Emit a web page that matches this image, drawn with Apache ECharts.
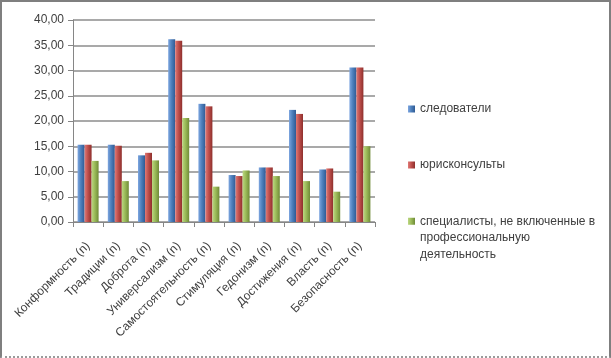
<!DOCTYPE html>
<html><head><meta charset="utf-8">
<script src="https://cdn.jsdelivr.net/npm/echarts@6/dist/echarts.min.js"></script>
<style>html,body{margin:0;padding:0;background:#fff}
#frame{position:absolute;left:0;top:0;width:607px;height:354px;border:2px solid #7f7f7f;border-bottom:2px dotted #9a9a9a;}
#c{position:absolute;left:0;top:0;width:611px;height:358px}</style>
</head><body><div id="frame"></div><div id="c"></div>
<script>
const categories = ['Конформность (n)','Традиции (n)','Доброта (n)','Универсализм (n)','Самостоятельность (n)','Стимуляция (n)','Гедонизм (n)','Достижения (n)','Власть (n)','Безопасность (n)'];
const seriesNames = ['следователи','юрисконсульты','специалисты, не включенные в профессиональную деятельность'];
const investigators = [15.3, 15.3, 13.2, 36.2, 23.4, 9.3, 10.8, 22.2, 10.4, 30.6];
const lawyers       = [15.3, 15.1, 13.7, 35.9, 22.9, 9.1, 10.8, 21.4, 10.6, 30.6];
const others        = [12.1, 8.1, 12.2, 20.6, 7.0, 10.2, 9.1, 8.1, 6.0, 15.0];
const yTicks = [0,5,10,15,20,25,30,35,40];

function grad(light, base, dark){
  return new echarts.graphic.LinearGradient(0,0,1,0,[
    {offset:0,color:light},{offset:0.45,color:base},{offset:1,color:dark}]);
}
const chart = echarts.init(document.getElementById('c'));
const fontFam = '"Liberation Sans", Arial, sans-serif';
const legendText = {fontSize:12,color:'#404040',fontFamily:fontFam};
chart.setOption({
  animation:false,
  backgroundColor:'transparent',
  textStyle:{fontFamily:fontFam},
  grid:{left:73,right:236,top:20,bottom:136,containLabel:false},
  legend:[{
    orient:'vertical', left:403, top:98, itemWidth:7, itemHeight:7, itemGap:44,
    icon:'rect', textStyle:legendText,
    data:[seriesNames[0], seriesNames[1]]
  },{
    orient:'vertical', left:403, top:175, itemWidth:7, itemHeight:7,
    icon:'rect', textStyle:Object.assign({},legendText,{lineHeight:16.5}),
    data:[seriesNames[2]],
    formatter:function(){ return ' \n \nспециалисты, не включенные в\nпрофессиональную\nдеятельность'; }
  }],
  xAxis:{
    type:'category', data:categories,
    axisLine:{lineStyle:{color:'#868686',width:1}},
    axisTick:{show:true,alignWithLabel:false,length:5,lineStyle:{color:'#868686'}},
    axisLabel:{rotate:45,fontSize:12,color:'#404040',margin:22,interval:0}
  },
  yAxis:{
    type:'value', min:yTicks[0], max:yTicks[yTicks.length-1], interval:5,
    axisLine:{show:true,lineStyle:{color:'#868686'}},
    axisTick:{show:true,length:5,lineStyle:{color:'#868686'}},
    splitLine:{lineStyle:{color:'#8c8c8c',width:1.5}},
    axisLabel:{fontSize:12,color:'#404040',margin:9,padding:[7,0,0,0],formatter:v=>v.toFixed(2).replace('.',',')}
  },
  series:[
    {name:seriesNames[0],type:'bar',data:investigators,barWidth:7,barGap:'0%',
     itemStyle:{color:grad('#7ea6e0','#4f81bd','#2f5a94')}},
    {name:seriesNames[1],type:'bar',data:lawyers,barWidth:7,barGap:'0%',
     itemStyle:{color:grad('#e07a76','#c0504d','#8e2f2c')}},
    {name:seriesNames[2],type:'bar',data:others,barWidth:7,barGap:'0%',
     itemStyle:{color:grad('#bcd782','#9bbb59','#6f8b37')}}
  ]
});
</script></body></html>
